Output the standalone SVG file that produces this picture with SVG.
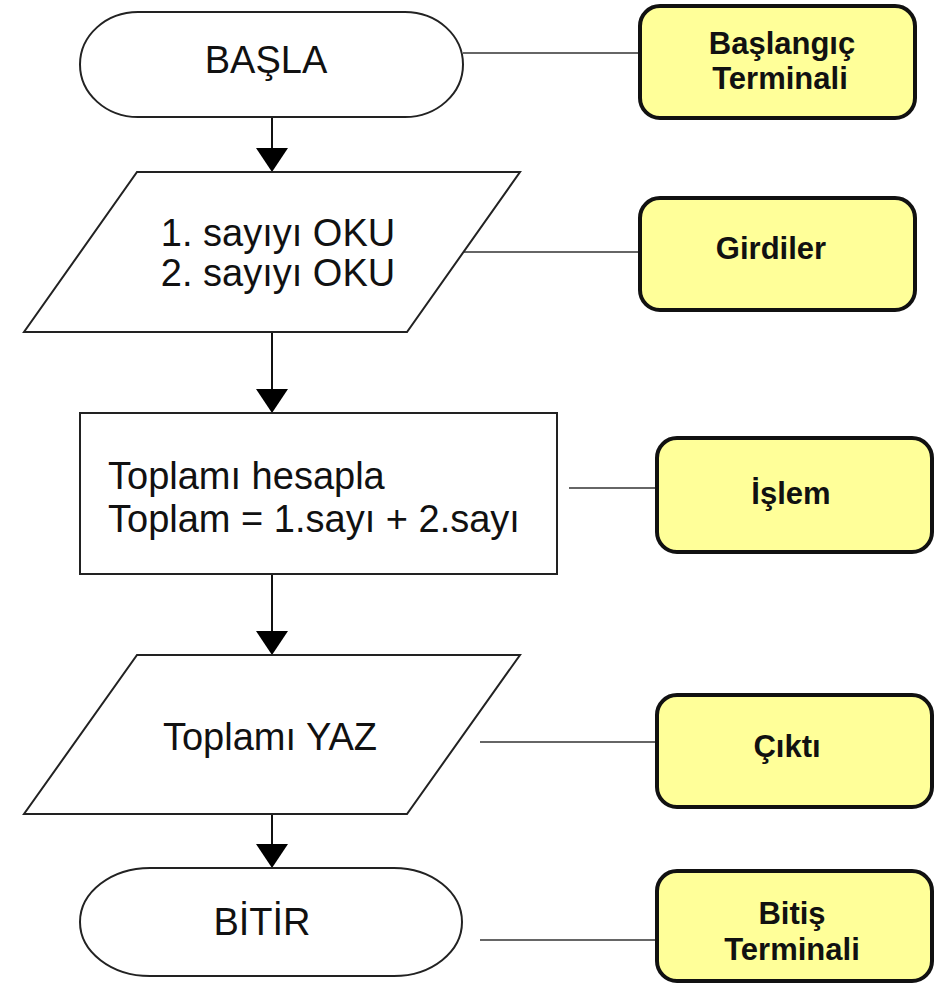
<svg xmlns="http://www.w3.org/2000/svg" width="947" height="984" viewBox="0 0 947 984">
<defs>
<style>
.shape{fill:#fff;stroke:#222;stroke-width:2}
.note{fill:#ffff99;stroke:#111;stroke-width:4}
.ft{font-family:"Liberation Sans",Arial,sans-serif;font-size:38px;fill:#111}
.nt{font-family:"Liberation Sans",Arial,sans-serif;font-size:31px;font-weight:bold;fill:#111;text-anchor:middle}
.flow{stroke:#111;stroke-width:2;fill:none}
.link{stroke:#333;stroke-width:1.6;fill:none}
.head{fill:#000}
</style>
</defs>
<rect width="947" height="984" fill="#fff"/>
<g id="connectors">
<line class="flow" x1="272" y1="117" x2="272" y2="150"/>
<polygon class="head" points="256,148 288,148 272,172"/>
<line class="flow" x1="272" y1="332" x2="272" y2="391"/>
<polygon class="head" points="256,389 288,389 272,413"/>
<line class="flow" x1="272" y1="574" x2="272" y2="633"/>
<polygon class="head" points="256,631 288,631 272,655"/>
<line class="flow" x1="272" y1="814" x2="272" y2="846"/>
<polygon class="head" points="256,844 288,844 272,868"/>
<line class="link" x1="463" y1="53" x2="640" y2="53"/>
<line class="link" x1="464" y1="252" x2="640" y2="252"/>
<line class="link" x1="569" y1="488" x2="657" y2="488"/>
<line class="link" x1="480" y1="742" x2="657" y2="742"/>
<line class="link" x1="480" y1="940" x2="657" y2="940"/>
</g>
<g id="basla">
<path class="shape" d="M138,12 H405 A58,52.5 0 0 1 405,117 H138 A58,52.5 0 0 1 138,12 Z"/>
<text class="ft" x="266" y="73" text-anchor="middle">BAŞLA</text>
</g>
<g id="girdi">
<polygon class="shape" points="137,172 520,172 407,332 24,332"/>
<text class="ft" x="278" y="246" text-anchor="middle">1. sayıyı OKU</text>
<text class="ft" x="278" y="286" text-anchor="middle">2. sayıyı OKU</text>
</g>
<g id="islem">
<rect class="shape" x="80" y="413" width="477" height="161"/>
<text class="ft" x="108" y="489">Toplamı hesapla</text>
<text class="ft" x="108" y="532">Toplam = 1.sayı + 2.sayı</text>
</g>
<g id="cikti">
<polygon class="shape" points="137,655 520,655 407,814 24,814"/>
<text class="ft" x="270" y="750" text-anchor="middle">Toplamı YAZ</text>
</g>
<g id="bitir">
<path class="shape" d="M150,868 H394 A68,54 0 0 1 394,976 H150 A70,54 0 0 1 150,868 Z"/>
<text class="ft" x="262" y="935" text-anchor="middle">BİTİR</text>
</g>
<g id="n-baslangic">
<rect class="note" x="640" y="6" width="275" height="112" rx="20"/>
<text class="nt" x="782" y="54">Başlangıç</text>
<text class="nt" x="780" y="89">Terminali</text>
</g>
<g id="n-girdiler">
<rect class="note" x="640" y="198" width="275" height="112" rx="20"/>
<text class="nt" x="771" y="259">Girdiler</text>
</g>
<g id="n-islem">
<rect class="note" x="657" y="438" width="275" height="114" rx="20"/>
<text class="nt" x="791" y="504">İşlem</text>
</g>
<g id="n-cikti">
<rect class="note" x="657" y="695" width="275" height="112" rx="20"/>
<text class="nt" x="787" y="757">Çıktı</text>
</g>
<g id="n-bitis">
<rect class="note" x="657" y="871" width="275" height="110" rx="20"/>
<text class="nt" x="792" y="924">Bitiş</text>
<text class="nt" x="792" y="960">Terminali</text>
</g>
</svg>
